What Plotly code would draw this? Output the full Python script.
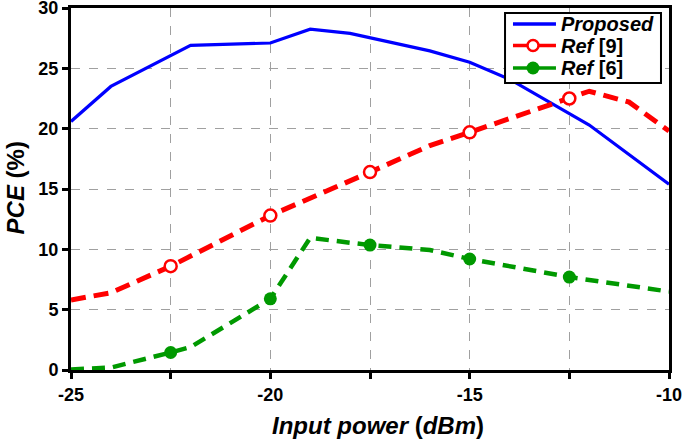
import plotly.graph_objects as go

# Proposed (solid blue)
prop_x = [-25, -24, -22, -20, -19, -18, -16, -15, -14, -13, -12, -10]
prop_y = [20.6, 23.5, 26.9, 27.1, 28.25, 27.9, 26.45, 25.5, 24.1, 22.2, 20.3, 15.4]

# Ref [9] (red dashed, open markers)
ref9_x = [-25, -24, -22.5, -20, -17.5, -16, -15, -12.5, -12, -11, -10]
ref9_y = [5.8, 6.4, 8.6, 12.8, 16.4, 18.6, 19.7, 22.5, 23.1, 22.2, 19.8]
ref9_mx = [-22.5, -20, -17.5, -15, -12.5]
ref9_my = [8.6, 12.8, 16.4, 19.7, 22.5]

# Ref [6] (green dashed, filled markers)
ref6_x = [-25, -24, -22.5, -22, -20, -19, -17.5, -16, -15, -12.5, -10]
ref6_y = [0.05, 0.2, 1.45, 1.9, 5.9, 10.95, 10.35, 9.95, 9.2, 7.7, 6.5]
ref6_mx = [-22.5, -20, -17.5, -15, -12.5]
ref6_my = [1.45, 5.9, 10.35, 9.2, 7.7]

x_tickvals = [-25, -22.5, -20, -17.5, -15, -12.5, -10]
x_ticktext = ["-25", "", "-20", "", "-15", "", "-10"]
y_tickvals = [0, 5, 10, 15, 20, 25, 30]

legend_names = ["<i>Proposed</i>", "<i>Ref</i> [9]", "<i>Ref</i> [6]"]

BLUE = "#0000ff"
RED = "#ff0000"
GREEN = "#009900"
FAM = "Liberation Sans, Arial, sans-serif"

fig = go.Figure()

fig.add_trace(go.Scatter(x=prop_x, y=prop_y, mode="lines",
                         line=dict(color=BLUE, width=3.2), showlegend=False))
fig.add_trace(go.Scatter(x=ref9_x, y=ref9_y, mode="lines",
                         line=dict(color=RED, width=5, dash="15px,8px"), showlegend=False))
fig.add_trace(go.Scatter(x=ref9_mx, y=ref9_my, mode="markers",
                         marker=dict(symbol="circle", size=12, color="white",
                                     line=dict(color=RED, width=2.5)),
                         showlegend=False))
fig.add_trace(go.Scatter(x=ref6_x, y=ref6_y, mode="lines",
                         line=dict(color=GREEN, width=4.5, dash="13px,8px"), showlegend=False))
fig.add_trace(go.Scatter(x=ref6_mx, y=ref6_my, mode="markers",
                         marker=dict(symbol="circle", size=13, color=GREEN),
                         showlegend=False))

# ---- custom legend box (paper coordinates relative to plot area) ----
shapes = [dict(type="rect", xref="paper", yref="paper",
               x0=0.7258, x1=0.9866, y0=0.7928, y1=0.9862,
               line=dict(color="black", width=2), fillcolor="white", layer="above")]
annotations = []
row_y = [0.9558, 0.8964, 0.8343]
row_col = [BLUE, RED, GREEN]
lx0, lx1, mx, tx = 0.7391, 0.8110, 0.7726, 0.8160
for i in range(3):
    shapes.append(dict(type="line", xref="paper", yref="paper",
                       x0=lx0, x1=lx1, y0=row_y[i], y1=row_y[i],
                       line=dict(color=row_col[i], width=3.5), layer="above"))
    if i == 1:
        shapes.append(dict(type="circle", xref="paper", yref="paper",
                           xsizemode="pixel", ysizemode="pixel",
                           xanchor=mx, yanchor=row_y[i], x0=-5.5, x1=5.5, y0=-5.5, y1=5.5,
                           line=dict(color=RED, width=2.5), fillcolor="white", layer="above"))
    if i == 2:
        shapes.append(dict(type="circle", xref="paper", yref="paper",
                           xsizemode="pixel", ysizemode="pixel",
                           xanchor=mx, yanchor=row_y[i], x0=-6.5, x1=6.5, y0=-6.5, y1=6.5,
                           line=dict(color=GREEN, width=0), fillcolor=GREEN, layer="above"))
    annotations.append(dict(xref="paper", yref="paper", x=tx, y=row_y[i],
                            xanchor="left", yanchor="middle", showarrow=False,
                            text=legend_names[i],
                            font=dict(family=FAM, size=20, color="black", weight="bold")))

title_font = dict(family=FAM, size=24, color="black", weight="bold")
annotations.append(dict(xref="paper", yref="paper", x=0.513, y=-0.152,
                        xanchor="center", yanchor="middle", showarrow=False,
                        text="<i>Input power</i> (<i>dBm</i>)", font=title_font))
annotations.append(dict(xref="paper", yref="paper", x=-0.0928, y=0.503,
                        xanchor="center", yanchor="middle", showarrow=False, textangle=-90,
                        text="<i>PCE</i> (%)", font=title_font))

axis_font = dict(family=FAM, size=18, color="black", weight="bold")

fig.update_layout(
    width=685, height=441,
    margin=dict(l=71, r=16, t=8, b=71),
    plot_bgcolor="white", paper_bgcolor="white",
    font=dict(family=FAM, color="black"),
    showlegend=False,
    shapes=shapes, annotations=annotations,
    xaxis=dict(
        range=[-25, -10], tickvals=x_tickvals, ticktext=x_ticktext,
        ticks="outside", ticklen=6, tickwidth=3, tickcolor="black",
        showline=True, linecolor="black", linewidth=3, mirror=True,
        showgrid=True, gridcolor="#a0a0a0", gridwidth=1, griddash="dash",
        zeroline=False, tickfont=axis_font, automargin=False,
        ticklabeloverflow="allow",
    ),
    yaxis=dict(
        range=[0, 30], tickvals=y_tickvals,
        ticks="outside", ticklen=6, tickwidth=3, tickcolor="black",
        showline=True, linecolor="black", linewidth=3, mirror=True,
        showgrid=True, gridcolor="#a0a0a0", gridwidth=1, griddash="dash",
        zeroline=False, tickfont=axis_font, automargin=False,
        ticklabeloverflow="allow",
    ),
)

# remove the browser's default 8px body margin so the figure starts at the window corner
fig.write_html("out.html", config={"displayModeBar": False},
               post_script="document.body.style.margin='0px';document.body.style.padding='0px';")
